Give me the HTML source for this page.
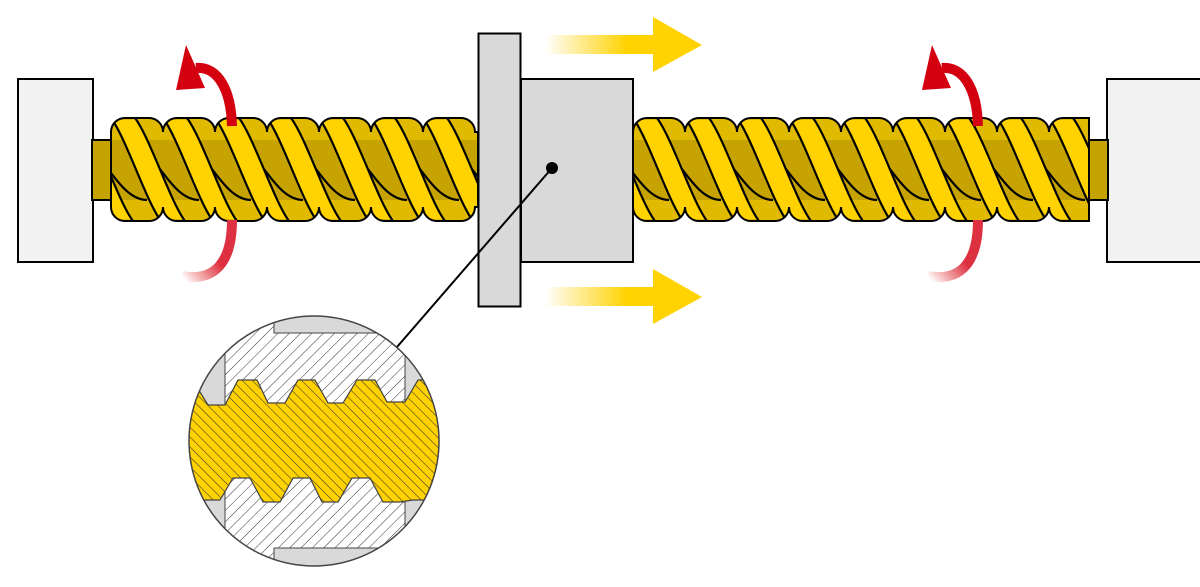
<!DOCTYPE html>
<html><head><meta charset="utf-8"><style>html,body{margin:0;padding:0;background:#fff}svg{display:block}</style></head>
<body>
<svg width="1200" height="587" viewBox="0 0 1200 587" xmlns="http://www.w3.org/2000/svg">
<defs>
  <g id="tile">
    <rect x="-60" width="180" height="103" fill="#dfba00"/>
    <rect x="-60" y="22" width="180" height="60" fill="#c6a300"/>
    <g fill="none" stroke="#000" stroke-width="2.2">
      <path d="M-40,22 C-10,22 5,82 36,82"/>
      <path d="M12,22 C42,22 57,82 88,82"/>
      <path d="M-92,22 C-62,22 -47,82 -16,82"/>
    </g>
    <g fill="#ffd200" stroke="#000" stroke-width="2.2">
      <path d="M-52,0 C-37,20 -17,83 -2,103 H22 C7,83 -13,20 -28,0Z"/>
      <path d="M0,0 C15,20 35,83 50,103 H74 C59,83 39,20 24,0Z"/>
    </g>
  </g>
  <pattern id="thr" patternUnits="userSpaceOnUse" x="111" y="118" width="52" height="103"><use href="#tile"/></pattern>
  <pattern id="thr2" patternUnits="userSpaceOnUse" x="633" y="118" width="52" height="103"><use href="#tile"/></pattern>
  <linearGradient id="ya" x1="0" x2="1"><stop offset="0" stop-color="#ffd200" stop-opacity="0"/><stop offset="0.75" stop-color="#ffd200"/></linearGradient>
  <linearGradient id="rb" x1="0" y1="1" x2="1" y2="0"><stop offset="0" stop-color="#dd2020" stop-opacity="0"/><stop offset="0.5" stop-color="#dd3040"/></linearGradient>
  <pattern id="h1" patternUnits="userSpaceOnUse" width="8" height="8" patternTransform="rotate(45)">
    <rect width="8" height="8" fill="#fff"/><line x1="0" y1="0" x2="0" y2="8" stroke="#333" stroke-width="1"/>
  </pattern>
  <pattern id="h2" patternUnits="userSpaceOnUse" width="7" height="7" patternTransform="rotate(-45)">
    <rect width="7" height="7" fill="#ffd200"/><line x1="0" y1="0" x2="0" y2="7" stroke="#333" stroke-width="1.1"/>
  </pattern>
  <clipPath id="cc"><circle cx="314" cy="441" r="125"/></clipPath>
</defs>

<rect x="18" y="79" width="75" height="183" fill="#f2f2f2" stroke="#000" stroke-width="2"/>
<rect x="1107" y="79" width="100" height="183" fill="#f2f2f2" stroke="#000" stroke-width="2"/>
<rect x="92" y="140" width="20" height="60" fill="#c4a200" stroke="#000" stroke-width="2"/>
<rect x="1088" y="140" width="20" height="60" fill="#c4a200" stroke="#000" stroke-width="2"/>

<path d="M111,207 V132
 a14,14 0 0 1 14,-14 h24 a14,14 0 0 1 14,14
 a14,14 0 0 1 14,-14 h24 a14,14 0 0 1 14,14
 a14,14 0 0 1 14,-14 h24 a14,14 0 0 1 14,14
 a14,14 0 0 1 14,-14 h24 a14,14 0 0 1 14,14
 a14,14 0 0 1 14,-14 h24 a14,14 0 0 1 14,14
 a14,14 0 0 1 14,-14 h24 a14,14 0 0 1 14,14
 a14,14 0 0 1 14,-14 h24 a14,14 0 0 1 14,14
 L478,132 V207 H475
 a14,14 0 0 1 -14,14 h-24 a14,14 0 0 1 -14,-14
 a14,14 0 0 1 -14,14 h-24 a14,14 0 0 1 -14,-14
 a14,14 0 0 1 -14,14 h-24 a14,14 0 0 1 -14,-14
 a14,14 0 0 1 -14,14 h-24 a14,14 0 0 1 -14,-14
 a14,14 0 0 1 -14,14 h-24 a14,14 0 0 1 -14,-14
 a14,14 0 0 1 -14,14 h-24 a14,14 0 0 1 -14,-14
 a14,14 0 0 1 -14,14 h-24 a14,14 0 0 1 -14,-14 Z" fill="url(#thr)" stroke="#000" stroke-width="2"/>

<path d="M633,207 V132
 a14,14 0 0 1 14,-14 h24 a14,14 0 0 1 14,14
 a14,14 0 0 1 14,-14 h24 a14,14 0 0 1 14,14
 a14,14 0 0 1 14,-14 h24 a14,14 0 0 1 14,14
 a14,14 0 0 1 14,-14 h24 a14,14 0 0 1 14,14
 a14,14 0 0 1 14,-14 h24 a14,14 0 0 1 14,14
 a14,14 0 0 1 14,-14 h24 a14,14 0 0 1 14,14
 a14,14 0 0 1 14,-14 h24 a14,14 0 0 1 14,14
 a14,14 0 0 1 14,-14 h24 a14,14 0 0 1 14,14
 a14,14 0 0 1 14,-14 h26 V221 H1063 a14,14 0 0 1 -14,-14
 a14,14 0 0 1 -14,14 h-24 a14,14 0 0 1 -14,-14
 a14,14 0 0 1 -14,14 h-24 a14,14 0 0 1 -14,-14
 a14,14 0 0 1 -14,14 h-24 a14,14 0 0 1 -14,-14
 a14,14 0 0 1 -14,14 h-24 a14,14 0 0 1 -14,-14
 a14,14 0 0 1 -14,14 h-24 a14,14 0 0 1 -14,-14
 a14,14 0 0 1 -14,14 h-24 a14,14 0 0 1 -14,-14
 a14,14 0 0 1 -14,14 h-24 a14,14 0 0 1 -14,-14
 a14,14 0 0 1 -14,14 h-24 a14,14 0 0 1 -14,-14 Z" fill="url(#thr2)" stroke="#000" stroke-width="2"/>

<g>
  <path d="M232,126 C231,90 218,66 196,68" fill="none" stroke="#d40010" stroke-width="10"/>
  <polygon points="186,45 176,90 205,88" fill="#d40010"/>
  <path d="M232,220 C232,262 215,282 182,276" fill="none" stroke="url(#rb)" stroke-width="10"/>
  <path d="M978,126 C977,90 964,66 942,68" fill="none" stroke="#d40010" stroke-width="10"/>
  <polygon points="932,45 922,90 951,88" fill="#d40010"/>
  <path d="M978,220 C978,262 961,282 928,276" fill="none" stroke="url(#rb)" stroke-width="10"/>
</g>

<rect x="521" y="79" width="112" height="183" fill="#d9d9d9" stroke="#000" stroke-width="2"/>
<rect x="478.5" y="33.5" width="42" height="273" fill="#d9d9d9" stroke="#000" stroke-width="2"/>

<rect x="545" y="35" width="110" height="19" fill="url(#ya)"/>
<polygon points="653,17 702,45 653,72" fill="#ffd200"/>
<rect x="545" y="287" width="110" height="19" fill="url(#ya)"/>
<polygon points="653,269 702,297 653,324" fill="#ffd200"/>

<line x1="552" y1="168" x2="397" y2="347" stroke="#000" stroke-width="2"/>
<circle cx="552" cy="168" r="6" fill="#000"/>

<g clip-path="url(#cc)">
  <rect x="180" y="305" width="270" height="270" fill="#d9d9d9"/>
  <path d="M225,405 V300 H274 V333 H405 V402 H387 L375,380 H357 L343,403 H328 L315,380 H298 L285,403 H268 L257,380 H238 L225,405Z" fill="url(#h1)" stroke="#444" stroke-width="1"/>
  <rect x="274" y="300" width="200" height="33" fill="#d9d9d9" stroke="#444"/>
  <path d="M225,600 V490 L233,478 H250 L263,502 H280 L293,478 H310 L322,502 H338 L352,478 H370 L383,502 H405 V548 H274 V600Z" fill="url(#h1)" stroke="#444" stroke-width="1"/>
  <rect x="274" y="548" width="200" height="30" fill="#d9d9d9" stroke="#444"/>
  <path d="M180,392 H200 L208,405 H225 L238,380 H257 L268,403 H285 L298,380 H315 L328,403 H343 L357,380 H375 L387,402 H405 L418,380 H450 V500 H413 L400,502 H383 L370,478 H352 L338,502 H322 L310,478 H293 L280,502 H263 L250,478 H233 L220,500 H180Z" fill="url(#h2)" stroke="#444" stroke-width="1.2"/>
</g>
<circle cx="314" cy="441" r="125" fill="none" stroke="#444" stroke-width="1.5"/>
</svg>
</body></html>
